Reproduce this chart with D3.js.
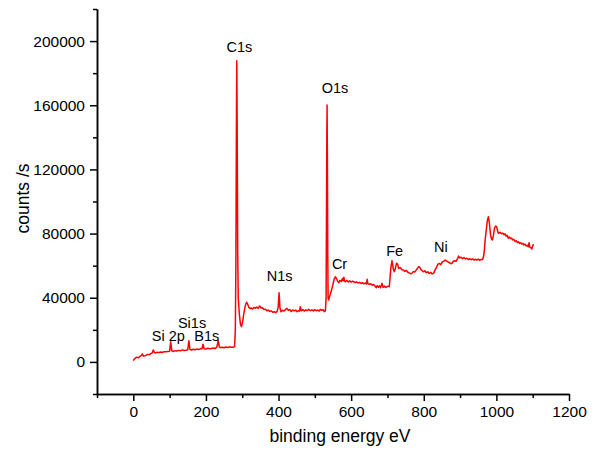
<!DOCTYPE html>
<html>
<head>
<meta charset="utf-8">
<script src="https://cdn.jsdelivr.net/npm/d3@7"></script>
<style>
  body { margin: 0; background: #fff; }
  svg { display: block; font-family: Arial, "Liberation Sans", sans-serif; }
  .axis path, .axis line { stroke: #000; stroke-width: 1.5; }
  .axis text { font-size: 15.5px; fill: #000; }
</style>
</head>
<body>
<div id="chart"></div>
<script>
// survey spectrum, [binding energy eV, counts/s]
var spectrum = [
  [0, 800], [3, 1800], [6, 2500], [10, 2900], [14, 2600], [18, 3400], [22, 3900], [25, 5000],
  [28, 3600], [32, 3800], [36, 4200], [40, 4700], [44, 4400], [48, 5200], [52, 5500], [55, 7400],
  [58, 5900], [62, 5600], [66, 6000], [70, 5800], [75, 6200], [80, 5900], [85, 6400], [90, 6300],
  [95, 6500], [100, 6700], [103, 12500], [106, 6900], [110, 6500], [115, 7000], [120, 6800],
  [125, 7200], [130, 7000], [135, 7500], [140, 7100], [145, 7300], [150, 7600], [153, 13200],
  [156, 7800], [160, 7400], [165, 7900], [170, 7600], [175, 8000], [180, 7700], [185, 8300],
  [189, 8100], [192, 11000], [195, 8200], [200, 8000], [205, 8500], [210, 8200], [215, 8400],
  [220, 8700], [225, 8300], [230, 9200], [234, 13200], [237, 9400], [240, 8900], [245, 9100],
  [250, 8800], [255, 9300], [260, 9000], [265, 9400], [270, 9200], [275, 9100], [279, 9500],
  [281, 20000], [282.5, 60000], [284, 150000], [285, 187700], [286, 150000], [287.5, 70000],
  [289, 40000], [292, 30000], [295, 23500], [298, 22000], [301, 25000], [305, 31000], [309, 35500],
  [312, 37200], [315, 36000], [318, 34000], [322, 33200], [325, 33600], [328, 33000], [332, 33900],
  [336, 33500], [340, 34200], [344, 33400], [348, 34900], [352, 33600], [356, 33800], [360, 32700],
  [364, 32900], [368, 31900], [372, 32300], [376, 31500], [380, 31800], [384, 31000], [388, 31300],
  [392, 30700], [396, 31500], [399, 34000], [401.5, 43100], [404, 33500], [407, 31300], [411, 32200],
  [415, 31700], [419, 32600], [423, 33400], [427, 32100], [431, 32700], [435, 31400], [439, 32400],
  [443, 31800], [447, 32300], [451, 31300], [455, 32000], [458, 31600], [460, 34400], [463, 31900],
  [467, 32600], [471, 31700], [475, 32400], [479, 32000], [483, 32800], [488, 31900], [492, 32500],
  [496, 31800], [500, 32600], [504, 31900], [508, 32300], [512, 31700], [515, 32800], [519, 32100],
  [523, 32600], [526, 31300], [529, 31800], [531, 40000], [532, 90000], [533, 140000], [533.7, 160200],
  [534.5, 130000], [535.5, 70000], [536.5, 40000], [538, 38600], [541, 41000], [545, 44000],
  [549, 47500], [553, 51500], [556.5, 53100], [560, 51800], [563, 50200], [566, 49400], [569, 50800],
  [573, 50200], [576, 52000], [578, 50600], [580, 52700], [582, 50400], [584, 50000], [588, 50900],
  [592, 49800], [596, 50600], [600, 49700], [604, 50300], [607, 50000], [611, 49400], [615, 49900],
  [619, 49200], [623, 49600], [627, 48900], [631, 49400], [635, 48700], [639, 49200], [642, 48600],
  [644, 51500], [646, 48800], [650, 48300], [654, 48700], [658, 47800], [662, 48300], [666, 47200],
  [669, 46300], [672, 47600], [675, 46500], [678, 47400], [681, 46200], [685, 49000], [688, 46500],
  [692, 47300], [695, 46400], [699, 46900], [702, 47200], [705, 47000], [707, 52000], [709, 58000],
  [712.5, 63100], [716, 58000], [719, 56200], [722, 58500], [725, 61500], [728, 61000], [731, 58300],
  [735, 58800], [740, 57500], [744, 57300], [748, 56400], [752, 57100], [756, 55900], [760, 55500],
  [764, 54900], [767, 55200], [771, 56300], [775, 56000], [779, 57200], [783, 58400], [786, 59300],
  [789, 59000], [792, 57700], [795, 57000], [799, 56200], [803, 56800], [807, 55600], [811, 56200],
  [815, 55100], [819, 55800], [823, 54900], [827, 55200], [831, 57200], [835, 58900], [839, 61000],
  [843, 61400], [847, 60600], [851, 62300], [855, 62800], [859, 63500], [863, 62900], [867, 62300],
  [871, 61800], [875, 61200], [878, 61600], [881, 62600], [885, 63100], [889, 62700], [893, 64400],
  [896, 66000], [899, 64800], [903, 65300], [907, 64400], [911, 65100], [915, 64200], [919, 64600],
  [923, 63800], [927, 64300], [931, 63700], [935, 64200], [939, 63500], [943, 64000], [946, 63500],
  [950, 64100], [954, 63300], [958, 63900], [962, 63800], [965, 66000], [967, 70000], [969, 76000],
  [972, 82000], [975, 88000], [978, 90500], [981, 86000], [984, 79000], [987, 76500], [989, 76000],
  [992, 79000], [995, 83500], [998, 84700], [1001, 84200], [1004, 81000], [1006, 80200], [1010, 80800],
  [1014, 79900], [1018, 80300], [1021, 79300], [1024, 79800], [1027, 78400], [1030, 78900],
  [1033, 77100], [1036, 77900], [1039, 76900], [1042, 77200], [1045, 76000], [1048, 76400],
  [1052, 75000], [1055, 75500], [1058, 74400], [1061, 74900], [1064, 73900], [1067, 74300],
  [1070, 73500], [1073, 73900], [1076, 72900], [1079, 73400], [1082, 72300], [1085, 72700],
  [1088, 71800], [1090, 74300], [1092, 71600], [1095, 71200], [1097.6, 70400], [1100, 72200],
  [1102, 73300]
];

// peak labels: name, energy (eV), counts at label baseline
var peakNames = ["C1s", "O1s", "N1s", "Cr", "Fe", "Ni", "Si1s", "Si 2p", "B1s"];
var peakEnergy = [292, 555.6, 403, 568, 719.7, 847, 161.8, 96.6, 202.5];
var peakCounts = [193100, 167500, 50400, 57900, 66000, 68500, 21300, 13000, 13000];

var xMajor = [0, 200, 400, 600, 800, 1000, 1200];
var xMinor = [-100, 100, 300, 500, 700, 900, 1100];
var yMajor = [0, 40000, 80000, 120000, 160000, 200000];
var yMinor = [-20000, 20000, 60000, 100000, 140000, 180000, 220000];

var margin = { top: 9, right: 33, bottom: 57, left: 97 },
  width = 602 - margin.left - margin.right,
  height = 451 - margin.top - margin.bottom;

var svg = d3.select("#chart")
  .append("svg")
  .attr("width", 602)
  .attr("height", 451)
  .append("g")
  .attr("transform", "translate(" + margin.left + "," + margin.top + ")");

var x = d3.scaleLinear().domain([-100, 1200]).range([0, width]);
var y = d3.scaleLinear().domain([-20000, 220000]).range([height, 0]);

// minor ticks first, then major ticks with labels
svg.append("g")
  .attr("class", "axis")
  .attr("transform", "translate(0," + height + ")")
  .call(d3.axisBottom(x).tickValues(xMinor).tickSize(4).tickSizeOuter(0).tickFormat(""));
svg.append("g")
  .attr("class", "axis")
  .attr("transform", "translate(0," + height + ")")
  .call(d3.axisBottom(x).tickValues(xMajor).tickSize(7).tickSizeOuter(0).tickPadding(5).tickFormat(d3.format("d")));

svg.append("g")
  .attr("class", "axis")
  .call(d3.axisLeft(y).tickValues(yMinor).tickSize(4).tickSizeOuter(0).tickFormat(""));
svg.append("g")
  .attr("class", "axis")
  .call(d3.axisLeft(y).tickValues(yMajor).tickSize(7).tickSizeOuter(0).tickPadding(5).tickFormat(d3.format("d")));

// spectrum line
var line = d3.line()
  .x(function (d) { return x(d[0]); })
  .y(function (d) { return y(d[1]); });

svg.append("path")
  .datum(spectrum)
  .attr("fill", "none")
  .attr("stroke", "#ff0000")
  .attr("stroke-width", 1.5)
  .attr("stroke-linejoin", "round")
  .attr("d", line);

// peak labels
svg.selectAll("text.peak")
  .data(peakNames)
  .enter()
  .append("text")
  .attr("class", "peak")
  .attr("x", function (d, i) { return x(peakEnergy[i]); })
  .attr("y", function (d, i) { return y(peakCounts[i]); })
  .attr("text-anchor", "middle")
  .style("font-size", "14.5px")
  .text(function (d) { return d; });

// axis titles
svg.append("text")
  .attr("x", width / 2 + 7)
  .attr("y", height + 48)
  .attr("text-anchor", "middle")
  .style("font-size", "17.5px")
  .text("binding energy eV");

svg.append("text")
  .attr("transform", "translate(" + (29 - margin.left) + "," + (198.5 - margin.top) + ") rotate(-90)")
  .attr("text-anchor", "middle")
  .style("font-size", "17.5px")
  .text("counts /s");
</script>
</body>
</html>
